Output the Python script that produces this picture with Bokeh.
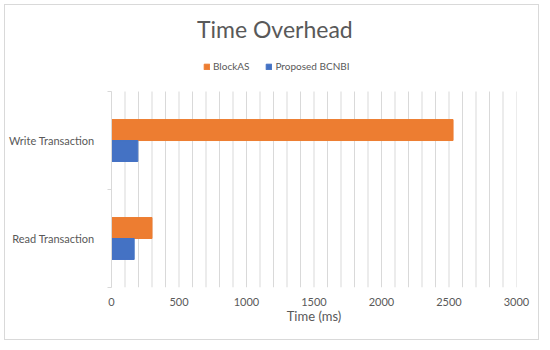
from bokeh.plotting import figure
from bokeh.models import FixedTicker, Legend, LegendItem, ColumnDataSource, Range1d, Label
from bokeh.transform import dodge
from bokeh.embed import file_html
from bokeh.resources import INLINE

title_text = "Time Overhead"
x_label = "Time (ms)"
categories = ["Read Transaction", "Write Transaction"]
series_names = ["BlockAS", "Proposed BCNBI"]
blockas = [300, 2530]
bcnbi = [168, 195]
x_tick_values = [0, 500, 1000, 1500, 2000, 2500, 3000]
x_minor_values = list(range(0, 3001, 100))

TEXT = "#595959"
GRID = "#D9D9D9"
FONT = "Lato"

n = len(categories)
src = ColumnDataSource(dict(
    y=[i + 0.5 for i in range(n)],
    blockas=blockas,
    bcnbi=bcnbi,
))
grid_src = ColumnDataSource(dict(x=x_minor_values, y0=[0] * len(x_minor_values),
                                 y1=[n] * len(x_minor_values)))

# frame: 0..n occupies the lower 196 px; extra room above holds title + legend
p = figure(width=535, height=336, x_range=Range1d(0, 3000), y_range=Range1d(0, 2.878),
           output_backend="svg", toolbar_location=None,
           min_border_left=104, min_border_right=24, min_border_bottom=54, min_border_top=0)
p.margin = (4, 0, 0, 4)
p.outline_line_color = None
p.background_fill_color = "white"
p.border_fill_color = "white"
p.styles = {"border": "1px solid #D9D9D9"}
p.xgrid.grid_line_color = None
p.ygrid.grid_line_color = None

p.segment(x0="x", x1="x", y0="y0", y1="y1", source=grid_src, line_color=GRID, line_width=1)

r1 = p.hbar(y=dodge("y", 0.107, range=p.y_range), right="blockas", left=0, height=0.214,
            source=src, color="#ED7D31")
r2 = p.hbar(y=dodge("y", -0.107, range=p.y_range), right="bcnbi", left=0, height=0.214,
            source=src, color="#4472C4")

# x axis
p.xaxis.ticker = FixedTicker(ticks=x_tick_values)
p.xaxis.axis_line_color = None
p.xaxis.major_tick_line_color = None
p.xaxis.minor_tick_line_color = None
p.xaxis.major_label_text_font = FONT
p.xaxis.major_label_text_font_size = "11px"
p.xaxis.major_label_text_color = TEXT
p.xaxis.major_label_standoff = 4
p.xaxis.axis_label = x_label
p.xaxis.axis_label_text_font = FONT
p.xaxis.axis_label_text_font_size = "13px"
p.xaxis.axis_label_text_font_style = "normal"
p.xaxis.axis_label_text_color = TEXT
p.xaxis.axis_label_standoff = -1

# y axis: labels at category centres, ticks at boundaries
p.yaxis.ticker = FixedTicker(ticks=[i + 0.5 for i in range(n)], minor_ticks=list(range(n + 1)))
p.yaxis.major_label_overrides = {i + 0.5: c for i, c in enumerate(categories)}
p.yaxis.bounds = (0, n)
p.yaxis.axis_line_color = GRID
p.yaxis.major_tick_line_color = None
p.yaxis.minor_tick_line_color = GRID
p.yaxis.minor_tick_in = 0
p.yaxis.minor_tick_out = 4
p.yaxis.major_label_text_font = FONT
p.yaxis.major_label_text_font_size = "11px"
p.yaxis.major_label_text_color = TEXT
p.yaxis.major_label_standoff = 11

# title
p.add_layout(Label(x=1210, y=2.642, text=title_text, text_font=FONT, text_font_size="23px",
                   text_color=TEXT, text_align="center", text_baseline="middle"))

legend = Legend(items=[LegendItem(label=series_names[0], renderers=[r1]),
                       LegendItem(label=series_names[1], renderers=[r2])],
                orientation="horizontal", location=(92, 215))
legend.label_text_font = FONT
legend.label_text_font_size = "10px"
legend.label_text_color = TEXT
legend.label_height = 12
legend.glyph_width = 7
legend.glyph_height = 7
legend.label_standoff = 3
legend.spacing = 16
legend.border_line_color = None
legend.background_fill_alpha = 0
legend.margin = 0
legend.padding = 0
p.add_layout(legend, "center")

open("out.html", "w").write(file_html(p, INLINE))
